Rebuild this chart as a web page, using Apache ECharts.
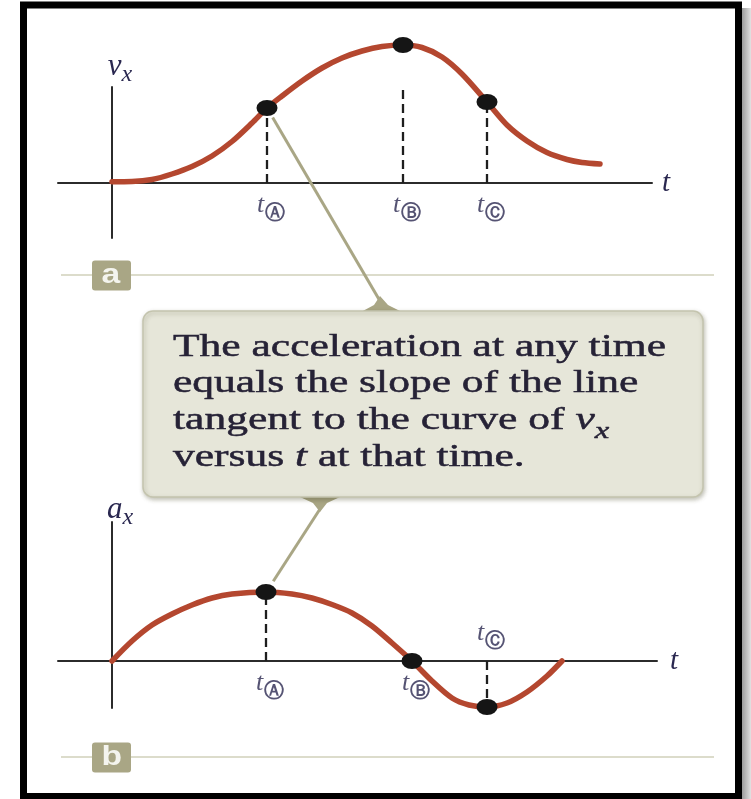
<!DOCTYPE html>
<html>
<head>
<meta charset="utf-8">
<script src="https://cdn.jsdelivr.net/npm/echarts@6/dist/echarts.min.js"></script>
<style>
  html, body { margin: 0; padding: 0; background: #ffffff; }
  #chart { width: 751px; height: 799px; }
</style>
</head>
<body>
<div id="chart"></div>
<script>
// Panel a: velocity v_x versus time t (arbitrary units)
const velocityT = [0, 2, 4, 6, 8, 10, 12, 14, 15.5, 17, 19, 21, 23, 25, 27, 29.1, 31, 33, 35, 37.5, 39.5, 41.5, 43.5, 45.5, 47, 48.8];
const velocityV = [0.13, 0.15, 0.35, 0.9, 1.65, 2.7, 4.15, 6.0, 7.5, 8.7, 10.2, 11.5, 12.5, 13.2, 13.65, 13.8, 13.55, 12.6, 10.9, 8.1, 5.8, 4.2, 3.05, 2.35, 2.05, 1.9];

// Marked instants on panel a
const velocityKeyT = [15.5, 29.1, 37.5];
const velocityKeyV = [7.5, 13.8, 8.1];

// Panel b: acceleration a_x versus time t
const accelT = [0, 2, 4, 6, 8, 10, 12, 15.4, 18, 20, 22, 24, 26, 28, 30, 32, 34, 35.7, 37.5, 39.5, 41.5, 43.5, 45];
const accelA = [0, 2.0, 3.6, 4.7, 5.6, 6.3, 6.7, 6.9, 6.7, 6.3, 5.65, 4.8, 3.5, 1.8, 0, -2.0, -3.7, -4.4, -4.6, -4.2, -3.1, -1.5, 0];

// Marked instants on panel b
const accelKeyT = [15.4, 30, 37.5];
const accelKeyA = [6.9, 0, -4.6];

// Instant labels (circled subscripts) and panel tags
const keyLabels = ['Ⓐ', 'Ⓑ', 'Ⓒ'];
const panelTags = ['a', 'b'];

// Callout text
const noteLines = [
  'The acceleration at any time',
  'equals the slope of the line',
  'tangent to the curve of {v|v}{x|x}',
  'versus {t|t} at that time.'
];

const serif = '"Liberation Serif", "DejaVu Serif", serif';
const ink = '#2a2850';
const noteInk = '#262236';
const curveRed = '#b4472f';
const olive = '#a9a685';

const chart = echarts.init(document.getElementById('chart'), null, { renderer: 'canvas' });

function pairs(xs, ys) { return xs.map((x, i) => [x, ys[i]]); }

function timeAxis(gi, min, max, gap) {
  return {
    type: 'value', gridIndex: gi, min: min, max: max,
    axisLine: { show: true, onZero: true, lineStyle: { color: '#2b2b2b', width: 2 } },
    axisTick: { show: false }, axisLabel: { show: false }, splitLine: { show: false },
    name: 't', nameLocation: 'end', nameGap: gap,
    nameTextStyle: { fontFamily: serif, fontStyle: 'italic', fontSize: 29, color: ink }
  };
}

function quantityAxis(gi, min, max, letter, gap) {
  return {
    type: 'value', gridIndex: gi, min: min, max: max,
    axisLine: { show: true, onZero: true, lineStyle: { color: '#2b2b2b', width: 2 } },
    axisTick: { show: false }, axisLabel: { show: false }, splitLine: { show: false },
    name: '{q|' + letter + '}{s|x}', nameLocation: 'end', nameGap: gap,
    nameTextStyle: {
      padding: [0, 0, 0, 16],
      rich: {
        q: { fontFamily: serif, fontStyle: 'italic', fontSize: 31, lineHeight: 30, color: ink },
        s: { fontFamily: serif, fontStyle: 'italic', fontSize: 24, lineHeight: 30, color: ink, padding: [15, 0, 0, 0] }
      }
    }
  };
}

const labelRich = {
  t: { fontFamily: serif, fontStyle: 'italic', fontSize: 26, lineHeight: 26, color: ink },
  c: { fontFamily: '"DejaVu Sans", sans-serif', fontWeight: 'bold', fontSize: 20, lineHeight: 26, color: ink, padding: [18, 0, 0, 1] }
};

// Instant labels sit on the opposite side of the axis from the marked point
function instantLabels(ts, vs) {
  return ts.map((t, i) => ({
    value: [t, 0],
    label: { offset: [4, vs[i] < 0 ? -28 : 22] }
  }));
}

function curveSeries(gi, xs, ys) {
  return {
    type: 'line', xAxisIndex: gi, yAxisIndex: gi,
    data: pairs(xs, ys), smooth: 0.3, symbol: 'none', clip: false, silent: true, z: 2,
    lineStyle: { color: curveRed, width: 5.5, cap: 'round' }
  };
}

function dropSeries(gi, ts, vs) {
  return {
    type: 'lines', coordinateSystem: 'cartesian2d', xAxisIndex: gi, yAxisIndex: gi,
    data: ts.map((t, i) => ({ coords: [[t, 0], [t, vs[i]]] })).filter(d => d.coords[1][1] !== 0),
    silent: true, z: 3,
    lineStyle: { color: '#1e1e1e', width: 2.3, type: [9, 5], opacity: 1 }
  };
}

function dotSeries(gi, ts, vs) {
  return {
    type: 'scatter', xAxisIndex: gi, yAxisIndex: gi,
    data: pairs(ts, vs), symbol: 'circle', symbolSize: [21, 16], clip: false, silent: true, z: 5,
    itemStyle: { color: '#151515', opacity: 1 }
  };
}

function labelSeries(gi, ts, vs) {
  return {
    type: 'scatter', xAxisIndex: gi, yAxisIndex: gi,
    data: instantLabels(ts, vs), symbolSize: 0, clip: false, silent: true, z: 6,
    label: {
      show: true, position: 'inside', align: 'center', verticalAlign: 'middle',
      formatter: p => '{t|t}{c|' + keyLabels[p.dataIndex] + '}',
      rich: labelRich
    }
  };
}

const option = {
  animation: false,
  backgroundColor: '#ffffff',
  grid: [
    { left: 58, top: 87, width: 594, height: 151 },
    { left: 58, top: 522, width: 599, height: 186 }
  ],
  xAxis: [timeAxis(0, -5.4, 54, 10), timeAxis(1, -5.4, 54.5, 13)],
  yAxis: [quantityAxis(0, -5.5, 9.6, 'v', 5), quantityAxis(1, -4.7, 13.9, 'a', -3)],
  series: [
    curveSeries(0, velocityT, velocityV),
    dropSeries(0, velocityKeyT, velocityKeyV),
    dotSeries(0, velocityKeyT, velocityKeyV),
    labelSeries(0, velocityKeyT, velocityKeyV),
    curveSeries(1, accelT, accelA),
    dropSeries(1, accelKeyT, accelKeyA),
    dotSeries(1, accelKeyT, accelKeyA),
    labelSeries(1, accelKeyT, accelKeyA)
  ]
};

chart.setOption(option);

// Callout pointers start next to the point marked at t_A on each panel
const pA = chart.convertToPixel({ gridIndex: 0 }, [velocityKeyT[0], velocityKeyV[0]]);
const qA = chart.convertToPixel({ gridIndex: 1 }, [accelKeyT[0], accelKeyA[0]]);
const topApex = [380, 297];
const bottomApex = [320, 512];
function stepToward(from, to, d) {
  const dx = to[0] - from[0], dy = to[1] - from[1];
  const len = Math.sqrt(dx * dx + dy * dy);
  return [from[0] + dx / len * d, from[1] + dy / len * d];
}
const pStart = stepToward(pA, topApex, 11);
const qEnd = stepToward(qA, bottomApex, 13);

function panelTag(letter, y) {
  return [
    { type: 'line', z: 1, shape: { x1: 61, y1: y, x2: 714, y2: y }, style: { stroke: '#dcdccb', lineWidth: 2 } },
    { type: 'rect', z: 2, shape: { x: 92, y: y - 14.5, width: 39, height: 30, r: 3 }, style: { fill: olive } },
    { type: 'text', z: 3, x: 101.5, y: y + 0.5, scaleX: 1.2,
      style: { text: letter, fill: '#f4f4ee', fontFamily: '"Liberation Sans", Arial, sans-serif', fontWeight: 'bold', fontSize: 28,
               textAlign: 'left', align: 'left', textVerticalAlign: 'middle', verticalAlign: 'middle' } }
  ];
}

const textRich = {
  v: { fontFamily: serif, fontStyle: 'italic', fontSize: 32, lineHeight: 36.7, fill: noteInk },
  x: { fontFamily: serif, fontStyle: 'italic', fontSize: 24, lineHeight: 36.7, fill: noteInk, padding: [22, 0, 0, 0] },
  t: { fontFamily: serif, fontStyle: 'italic', fontSize: 32, lineHeight: 36.7, fill: noteInk }
};

const graphics = [].concat(
  panelTag(panelTags[0], 275),
  panelTag(panelTags[1], 757),
  [
    // pointer from panel a to the callout
    { type: 'line', z: 5, shape: { x1: pStart[0], y1: pStart[1], x2: topApex[0], y2: topApex[1] + 4 },
      style: { stroke: olive, lineWidth: 3 } },
    { type: 'polygon', z: 6, shape: { points: [[361, 312], [402, 312], [388, 305], [380, 296], [374, 305]] },
      style: { fill: olive } },
    // callout box
    { type: 'rect', z: 7, shape: { x: 143, y: 311, width: 560, height: 186, r: 10 },
      style: { fill: '#e6e6d9', stroke: '#c4c4ae', lineWidth: 1.5,
               shadowBlur: 4, shadowColor: 'rgba(80,80,50,0.35)', shadowOffsetX: 1, shadowOffsetY: 2 } },
    { type: 'text', z: 8, x: 173, y: 329, scaleX: 1.36,
      style: { text: noteLines.join('\n'), fill: noteInk, stroke: noteInk, lineWidth: 0.5,
               fontFamily: serif, fontSize: 32, lineHeight: 36.7,
               textAlign: 'left', align: 'left', textVerticalAlign: 'top', verticalAlign: 'top', rich: textRich } },
    // pointer from the callout to panel b
    { type: 'polygon', z: 6, shape: { points: [[300, 497], [340, 497], [327, 503], [320, 512], [313, 503]] },
      style: { fill: olive } },
    { type: 'line', z: 5, shape: { x1: bottomApex[0], y1: bottomApex[1] - 3, x2: qEnd[0], y2: qEnd[1] },
      style: { stroke: olive, lineWidth: 3 } },
    // page frame and its shadow
    { type: 'rect', z: 20, shape: { x: 742, y: 8, width: 9, height: 791 },
      style: { fill: new echarts.graphic.LinearGradient(0, 0, 1, 0, [
        { offset: 0, color: '#9c9c9c' }, { offset: 1, color: '#e2e2e2' }]) } },
    { type: 'rect', z: 21, shape: { x: 23.5, y: 5, width: 715, height: 791.5 },
      style: { fill: 'transparent', stroke: '#000000', lineWidth: 7 } }
  ]
);

chart.setOption({ graphic: graphics });
</script>
</body>
</html>
